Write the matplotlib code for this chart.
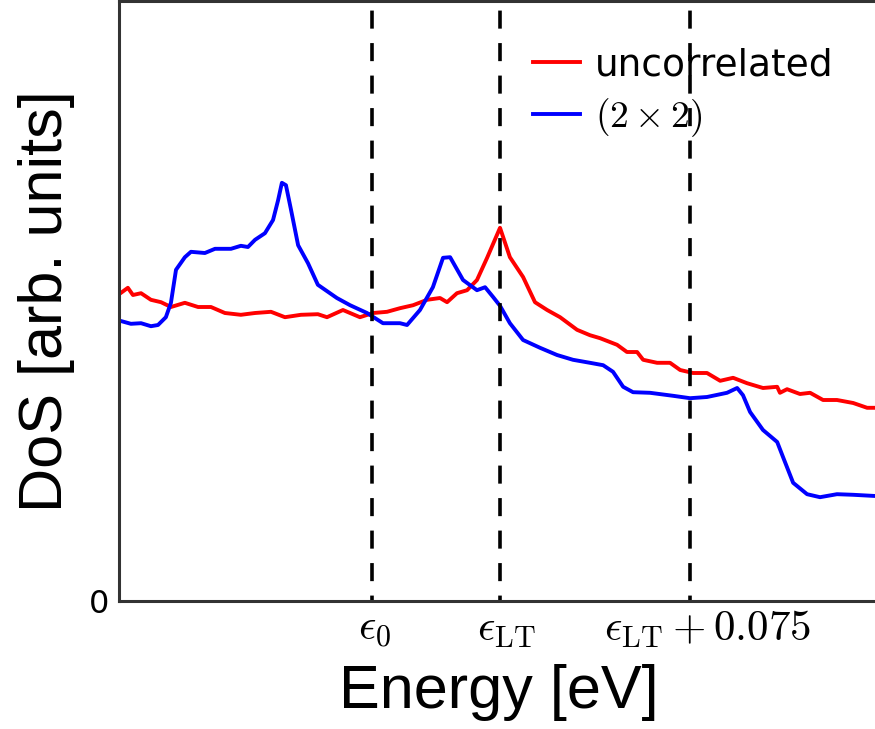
import matplotlib
matplotlib.use('Agg')
import matplotlib.pyplot as plt
import matplotlib.transforms as mtransforms

plt.rcParams['mathtext.fontset'] = 'cm'

# energy in meV relative to eps_LT, DoS in arb. units (0-100)
e_unc = [-150.8, -146.9, -144.9, -141.7, -137.8, -133.8, -129.9, -124.4, -119.2, -114.1,
         -108.6, -102.3, -96.7, -90.4, -84.9, -78.6, -71.9, -68.3, -62.0, -55.3,
         -50.1, -44.6, -39.5, -34.3, -28.8, -23.7, -20.9, -17.0, -13.0, -9.1,
         -5.1, 0.0, 3.9, 9.1, 13.8, 18.6, 23.7, 30.4, 35.5, 39.5,
         46.2, 50.1, 54.1, 56.5, 62.0, 67.1, 71.1, 76.2, 81.7, 86.9,
         92.0, 97.5, 103.8, 109.4, 110.5, 113.3, 118.4, 122.4, 127.5, 133.0,
         139.4, 144.9, 148.1]
dos_unc = [51.0, 52.2, 51.0, 51.3, 50.2, 49.8, 49.0, 49.7, 49.0, 49.0,
           48.0, 47.7, 48.0, 48.2, 47.3, 47.7, 47.8, 47.3, 48.5, 47.3,
           48.0, 48.2, 48.8, 49.3, 50.2, 50.5, 49.8, 51.3, 51.8, 53.5,
           57.2, 62.2, 57.3, 54.0, 49.8, 48.5, 47.3, 45.2, 44.3, 43.8,
           42.7, 41.5, 41.5, 40.2, 39.7, 39.7, 38.5, 38.0, 38.0, 36.7,
           37.2, 36.3, 35.5, 35.7, 34.7, 35.3, 34.5, 34.7, 33.5, 33.5,
           33.0, 32.2, 32.2]

e_2x2 = [-150.8, -145.7, -141.7, -137.8, -135.0, -131.9, -129.9, -127.9, -124.4, -122.0,
         -116.5, -112.5, -106.2, -102.3, -99.5, -96.7, -92.8, -89.6, -87.6, -86.1,
         -84.5, -82.5, -79.7, -75.8, -71.9, -64.4, -59.2, -52.5, -46.2, -39.5,
         -36.7, -31.6, -26.5, -22.5, -19.7, -14.6, -9.1, -5.9, -2.8, 0.0,
         3.9, 9.1, 15.8, 22.5, 28.8, 35.5, 40.7, 44.6, 48.6, 52.5,
         59.2, 68.3, 75.0, 81.7, 89.6, 93.6, 95.9, 98.7, 103.8, 109.4,
         111.7, 115.7, 121.2, 126.3, 133.0, 139.4, 148.1]
dos_2x2 = [46.8, 46.2, 46.3, 45.8, 46.0, 47.3, 49.7, 55.2, 57.3, 58.2,
           58.0, 58.7, 58.7, 59.2, 59.0, 60.2, 61.3, 63.5, 66.8, 69.7,
           69.3, 65.2, 59.3, 56.3, 52.7, 50.5, 49.3, 48.0, 46.3, 46.3,
           46.0, 48.5, 52.3, 57.2, 57.3, 53.5, 51.8, 52.3, 50.7, 49.2,
           46.3, 43.5, 42.2, 41.0, 40.2, 39.7, 39.3, 38.2, 35.7, 34.8,
           34.7, 34.2, 33.8, 34.0, 34.7, 35.5, 34.3, 31.5, 28.5, 26.5,
           24.0, 19.7, 17.8, 17.3, 17.8, 17.7, 17.5]

vlines = [-50.5, 0.0, 75.0]
vlabels = [r'$\epsilon_0$', r'$\epsilon_{\rm LT}$', r'$\epsilon_{\rm LT}+0.075$']

fig = plt.figure(figsize=(8.75, 7.29), dpi=100)
ax = fig.add_axes([0.136, 0.1756, 0.8686, 0.823])

ax.plot(e_unc, dos_unc, color='red', lw=2.8, label='uncorrelated')
ax.plot(e_2x2, dos_2x2, color='blue', lw=2.8, label=r'$(2\times2)$')
for v in vlines:
    ax.axvline(v, color='black', ls=(3.5, (5.0, 4.0)), lw=2.6)

ax.set_xlim(-150.4, 149.6)
ax.set_ylim(0, 100)
ax.set_xticks(vlines)
ax.set_xticklabels(vlabels, fontsize=31)
ax.set_yticks([0])
ax.set_yticklabels(['0'], fontsize=23)
ax.tick_params(length=0)
ax.tick_params(axis='x', pad=5)
ax.tick_params(axis='y', pad=7)

# labels sit a little right of their ticks in the original
for lab, dx in zip(ax.get_xticklabels(), [3, 6, 18]):
    lab.set_transform(lab.get_transform() +
                      mtransforms.ScaledTranslation(dx / 100, 0, fig.dpi_scale_trans))

for s in ax.spines.values():
    s.set_linewidth(2.2)
    s.set_color('#333333')

ax.set_xlabel('Energy [eV]', fontsize=44, family='Liberation Sans')
ax.set_ylabel('DoS [arb. units]', fontsize=44, family='Liberation Sans')
ax.xaxis.set_label_coords(0.5, -0.153)
ax.yaxis.set_label_coords(-0.096, 0.5)
ax.xaxis.label.set_va('center')
ax.yaxis.label.set_va('center')

ax.legend(loc='upper left', bbox_to_anchor=(0.545, 0.923), frameon=False,
          fontsize=27, handlelength=1.25, handletextpad=0.4, labelspacing=0.35,
          borderpad=0, borderaxespad=0)

fig.savefig('out.png', dpi=100)
